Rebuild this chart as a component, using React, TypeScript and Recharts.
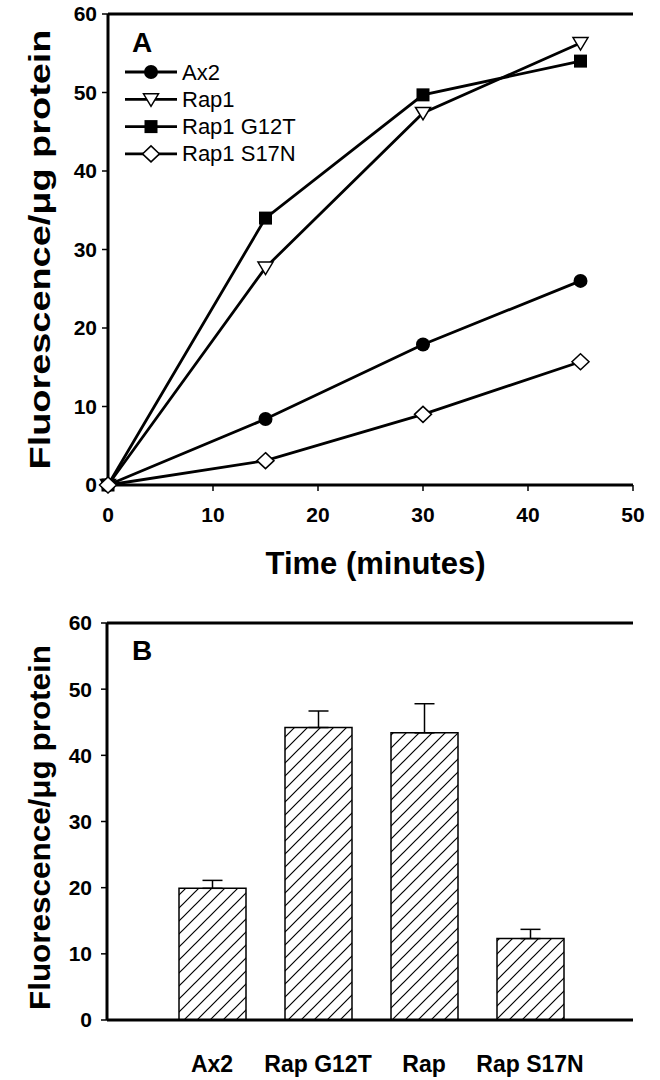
import React from 'react';
import { LineChart, Line, BarChart, Bar, XAxis, YAxis, ReferenceLine, ErrorBar } from 'recharts';

const FONT = '"Liberation Sans", Arial, Helvetica, sans-serif';

// Panel A: fluorescence over time
const timePoints = [0, 15, 30, 45];
const ax2Values = [0, 8.4, 17.9, 26.0];
const rap1Values = [0, 27.7, 47.4, 56.3];
const rap1G12TValues = [0, 34.0, 49.7, 54.0];
const rap1S17NValues = [0, 3.1, 9.0, 15.7];

const timeTicks = [0, 10, 20, 30, 40, 50];
const fluorTicks = [0, 10, 20, 30, 40, 50, 60];

// Panel B: bars with upward error bars
const barCategories = ['Ax2', 'Rap G12T', 'Rap', 'Rap S17N'];
const barMeans = [19.9, 44.2, 43.4, 12.3];
const barErrors = [1.2, 2.5, 4.4, 1.4];

const series = [
  { key: 'ax2', name: 'Ax2', marker: 'circle', values: ax2Values },
  { key: 'rap1', name: 'Rap1', marker: 'triangle', values: rap1Values },
  { key: 'g12t', name: 'Rap1 G12T', marker: 'square', values: rap1G12TValues },
  { key: 's17n', name: 'Rap1 S17N', marker: 'diamond', values: rap1S17NValues },
];

const lineData = timePoints.map((t, i) => {
  const row: any = { time: t };
  series.forEach(s => { row[s.key] = s.values[i]; });
  return row;
});

const barData = barCategories.map((name, i) => ({
  name,
  mean: barMeans[i],
  err: [0, barErrors[i]],
}));

const Marker = ({ kind, cx, cy }: { kind: string; cx: number; cy: number }) => {
  if (kind === 'circle') return <circle cx={cx} cy={cy} r={7} fill="#000" />;
  if (kind === 'triangle')
    return (
      <polygon
        points={`${cx - 7.5},${cy - 5.5} ${cx + 7.5},${cy - 5.5} ${cx},${cy + 7}`}
        fill="#fff" stroke="#000" strokeWidth={1.5}
      />
    );
  if (kind === 'square') return <rect x={cx - 6.5} y={cy - 6.5} width={13} height={13} fill="#000" />;
  return (
    <polygon
      points={`${cx},${cy - 8} ${cx + 8.5},${cy} ${cx},${cy + 8} ${cx - 8.5},${cy}`}
      fill="#fff" stroke="#000" strokeWidth={1.5}
    />
  );
};

const makeDot = (kind: string) => (props: any) => {
  const { cx, cy, index } = props;
  return <Marker key={`${kind}-${index}`} kind={kind} cx={cx} cy={cy} />;
};

// panel letter + legend, placed relative to the top frame line
const renderLegendA = (props: any) => {
  const { x, y } = props.viewBox;
  return (
    <g>
      <text x={x + 24} y={y + 38} fontSize={28} fontWeight="bold" fontFamily={FONT}>A</text>
      {series.map((s, i) => {
        const cy = y + 58 + i * 27.3;
        return (
          <g key={s.key}>
            <line x1={x + 17} x2={x + 69} y1={cy} y2={cy} stroke="#000" strokeWidth={2.8} />
            <Marker kind={s.marker} cx={x + 43} cy={cy} />
            <text x={x + 74} y={cy} dominantBaseline="central" fontSize={22} fontFamily={FONT}>{s.name}</text>
          </g>
        );
      })}
    </g>
  );
};

const renderLetterB = (props: any) => {
  const { x, y } = props.viewBox;
  return <text x={x + 25} y={y + 37} fontSize={28} fontWeight="bold" fontFamily={FONT}>B</text>;
};

const yTitle = (len: number, shift: number) => (props: any) => {
  const { x, y, height } = props.viewBox;
  const tx = x + 50;
  const ty = y + height / 2 + shift;
  return (
    <text
      x={tx} y={ty} transform={`rotate(-90, ${tx}, ${ty})`}
      textAnchor="middle" fontSize={30} fontWeight="bold" fontFamily={FONT}
      textLength={len} lengthAdjust="spacingAndGlyphs"
    >
      Fluorescence/μg protein
    </text>
  );
};

const xTitleA = (props: any) => {
  const { x, y, width } = props.viewBox;
  return (
    <text x={x + width / 2 + 5} y={y + 89} textAnchor="middle" fontSize={31} fontWeight="bold" fontFamily={FONT}>
      Time (minutes)
    </text>
  );
};

const tickStyle = { fontSize: 21, fontWeight: 'bold', fill: '#000', fontFamily: FONT };

export default function App() {
  return (
    <div style={{ position: 'absolute', left: 0, top: 0, width: 660, height: 1080, background: '#fff', overflow: 'hidden' }}>
      <div style={{ position: 'absolute', left: 0, top: 0 }}>
        <LineChart width={660} height={592} data={lineData} margin={{ top: 14, right: 27, bottom: 0, left: 0 }}>
          <XAxis
            dataKey="time" type="number" domain={[0, 50]} ticks={timeTicks}
            height={107} tickSize={6} tickMargin={16}
            axisLine={{ stroke: '#000', strokeWidth: 3 }} tickLine={{ stroke: '#000', strokeWidth: 1.5 }}
            tick={tickStyle} label={xTitleA}
          />
          <YAxis
            type="number" domain={[0, 60]} ticks={fluorTicks} width={108}
            tickSize={6} tickMargin={5}
            axisLine={{ stroke: '#000', strokeWidth: 3 }} tickLine={{ stroke: '#000', strokeWidth: 1.5 }}
            tick={tickStyle} label={yTitle(440, 0)}
          />
          <YAxis
            yAxisId="r" orientation="right" type="number" domain={[0, 60]} width={0}
            tick={false} tickLine={false} axisLine={{ stroke: '#000', strokeWidth: 3 }}
          />
          <ReferenceLine y={60} stroke="#000" strokeWidth={3} label={renderLegendA} />
          {series.map(s => (
            <Line
              key={s.key} dataKey={s.key} name={s.name} stroke="#000" strokeWidth={2.8}
              dot={makeDot(s.marker)} activeDot={false} isAnimationActive={false}
            />
          ))}
        </LineChart>
      </div>
      <div style={{ position: 'absolute', left: 0, top: 580 }}>
        <BarChart width={660} height={500} data={barData} margin={{ top: 43, right: 27, bottom: 0, left: 0 }}>
          <defs>
            <pattern id="hatch" patternUnits="userSpaceOnUse" width={13} height={13}>
              <rect width={13} height={13} fill="#fff" />
              <path d="M-1,1 l2,-2 M0,13 l13,-13 M12,14 l2,-2" stroke="#000" strokeWidth={1.2} />
            </pattern>
          </defs>
          <XAxis
            dataKey="name" type="category" height={60} padding={{ left: 52, right: 50 }}
            tickSize={0} tickMargin={36} tickLine={false}
            axisLine={{ stroke: '#000', strokeWidth: 3 }}
            tick={{ ...tickStyle, fontSize: 23 }} interval={0}
          />
          <YAxis
            type="number" domain={[0, 60]} ticks={fluorTicks} width={107}
            tickSize={6} tickMargin={9}
            axisLine={{ stroke: '#000', strokeWidth: 3 }} tickLine={{ stroke: '#000', strokeWidth: 1.5 }}
            tick={tickStyle} label={yTitle(365, 6)}
          />
          <YAxis
            yAxisId="r" orientation="right" type="number" domain={[0, 60]} width={0}
            tick={false} tickLine={false} axisLine={{ stroke: '#000', strokeWidth: 3 }}
          />
          <ReferenceLine y={60} stroke="#000" strokeWidth={3} label={renderLetterB} />
          <Bar dataKey="mean" fill="url(#hatch)" stroke="#000" strokeWidth={1.5} barSize={67} isAnimationActive={false}>
            <ErrorBar dataKey="err" direction="y" width={10} stroke="#000" strokeWidth={1.5} />
          </Bar>
        </BarChart>
      </div>
    </div>
  );
}
